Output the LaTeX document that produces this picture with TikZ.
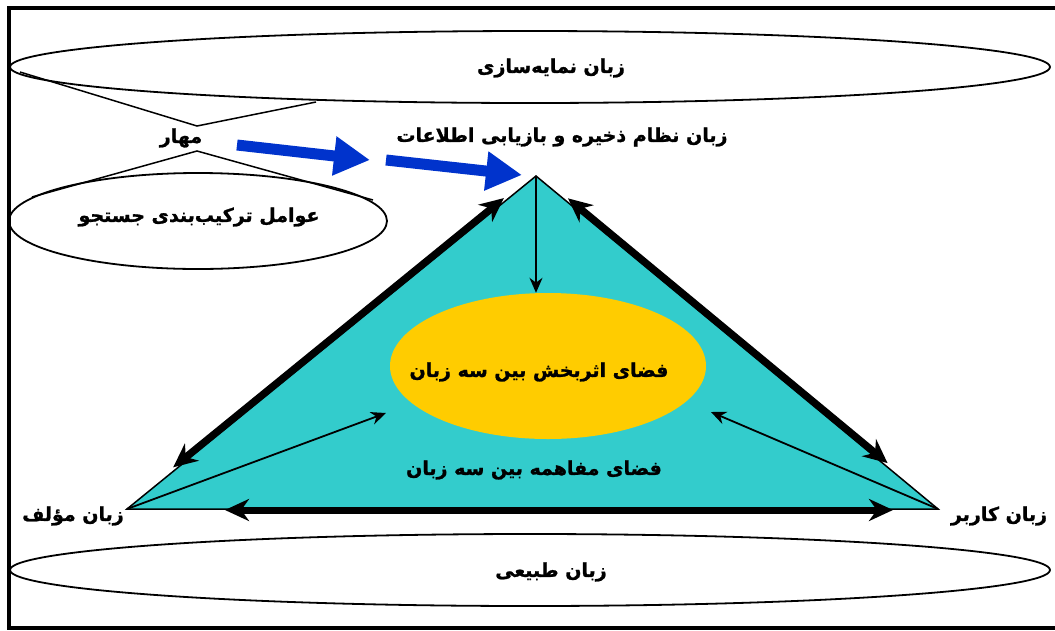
\documentclass[tikz,border=0pt]{standalone}
\usepackage{fontspec}
\usepackage{xcolor}
\usepackage{tikz}
\usetikzlibrary{shapes.geometric, arrows.meta, positioning, calc}
\TeXXeTstate=1
\newfontfamily\fafont[Script=Arabic, BoldFont={DejaVu Sans Bold}, BoldFeatures={FakeBold=1.2}]{DejaVu Sans}
\newcommand{\fatxt}[1]{\beginR#1\endR}
\definecolor{triancyan}{RGB}{51, 204, 204}
\definecolor{effyellow}{RGB}{255, 204, 0}
\definecolor{flowblue}{RGB}{0, 51, 204}

\begin{document}
\begin{tikzpicture}[
    x=1pt, y=-1pt,
    fa/.style={font=\fafont\bfseries\fontsize{19}{23}\selectfont, inner sep=0pt},
    band/.style={ellipse, draw=black, line width=1.8pt, minimum width=1040pt, minimum height=72pt, inner sep=0pt},
    bluearrow/.style={flowblue, line width=11pt, -{Triangle[length=36pt, width=37pt]}},
    bigarrow/.style={line width=7pt, {Stealth[length=24pt, width=22pt]}-{Stealth[length=24pt, width=22pt]}},
    thinarrow/.style={line width=1.8pt, -{Stealth[length=15pt, width=13pt]}}
]
    \useasboundingbox (0,0) rectangle (1055,630);
    \draw[line width=4pt] (9,8) rectangle (1080,628);

    % outer language bands
    \node[band] (idx) at (530,67) {};
    \node[band] (nat) at (530,570) {};
    \node[ellipse, draw=black, line width=1.8pt, minimum width=378pt, minimum height=96pt] (srch) at (198,221) {};

    % anchor callout
    \node[fa] (mahar) at (181,138) {\fatxt{مهار}};
    \coordinate (m1) at (20,72);
    \coordinate (m2) at (316,102);
    \coordinate (m3) at (32,197);
    \coordinate (m4) at (373,200);
    \draw[line width=1.5pt] (m1) -- ([yshift=12pt,xshift=16pt]mahar.center) -- (m2);
    \draw[line width=1.5pt] (m3) -- ([yshift=-13pt,xshift=16pt]mahar.center) -- (m4);

    % triangle of the three languages
    \coordinate (top) at (536,176);
    \coordinate (auth) at (127,509);
    \coordinate (user) at (938,509);
    \filldraw[fill=triancyan, draw=black, line width=1.5pt] (top) -- (auth) -- (user) -- cycle;
    \node[ellipse, fill=effyellow, minimum width=316pt, minimum height=146pt] (eff) at (548,366) {};

    % arrows
    \coordinate (b1s) at (237,145);
    \coordinate (b1e) at (370,160);
    \coordinate (b2s) at (386,160);
    \coordinate (b2e) at (522,175);
    \draw[bluearrow] (b1s) -- (b1e);
    \draw[bluearrow] (b2s) -- (b2e);
    \draw[bigarrow, shorten <=66pt, shorten >=35pt] ([xshift=-5pt]auth) -- ([xshift=-5pt]top);
    \draw[bigarrow, shorten <=35pt, shorten >=72pt] ([xshift=5pt]top) -- ([xshift=5pt]user);
    \draw[bigarrow, shorten <=98pt, shorten >=45pt] ([yshift=-1pt]auth) -- ([yshift=-1pt]user);
    \coordinate (effL) at (386,413);
    \coordinate (effR) at (711,412);
    \draw[thinarrow] (top) -- (top |- eff.north);
    \draw[thinarrow] (auth) -- (effL);
    \draw[thinarrow] (user) -- (effR);

    % labels
    \node[fa] (idxlbl) at (551,68) {\fatxt{زبان نمایه‌سازی}};
    \node[fa] (natlbl) at (551,572) {\fatxt{زبان طبیعی}};
    \node[fa] (srchlbl) at (199,217) {\fatxt{عوامل ترکیب‌بندی جستجو}};
    \node[fa] (store) at (562,137) {\fatxt{زبان نظام ذخیره و بازیابی اطلاعات}};
    \node[fa] (efflbl) at (539,372) {\fatxt{فضای اثربخش بین سه زبان}};
    \node[fa] (mutual) at (534,470) {\fatxt{فضای مفاهمه بین سه زبان}};
    \node[fa] (authlbl) at (73,516) {\fatxt{زبان مؤلف}};
    \node[fa] (userlbl) at (999,516) {\fatxt{زبان کاربر}};
\end{tikzpicture}
\end{document}
